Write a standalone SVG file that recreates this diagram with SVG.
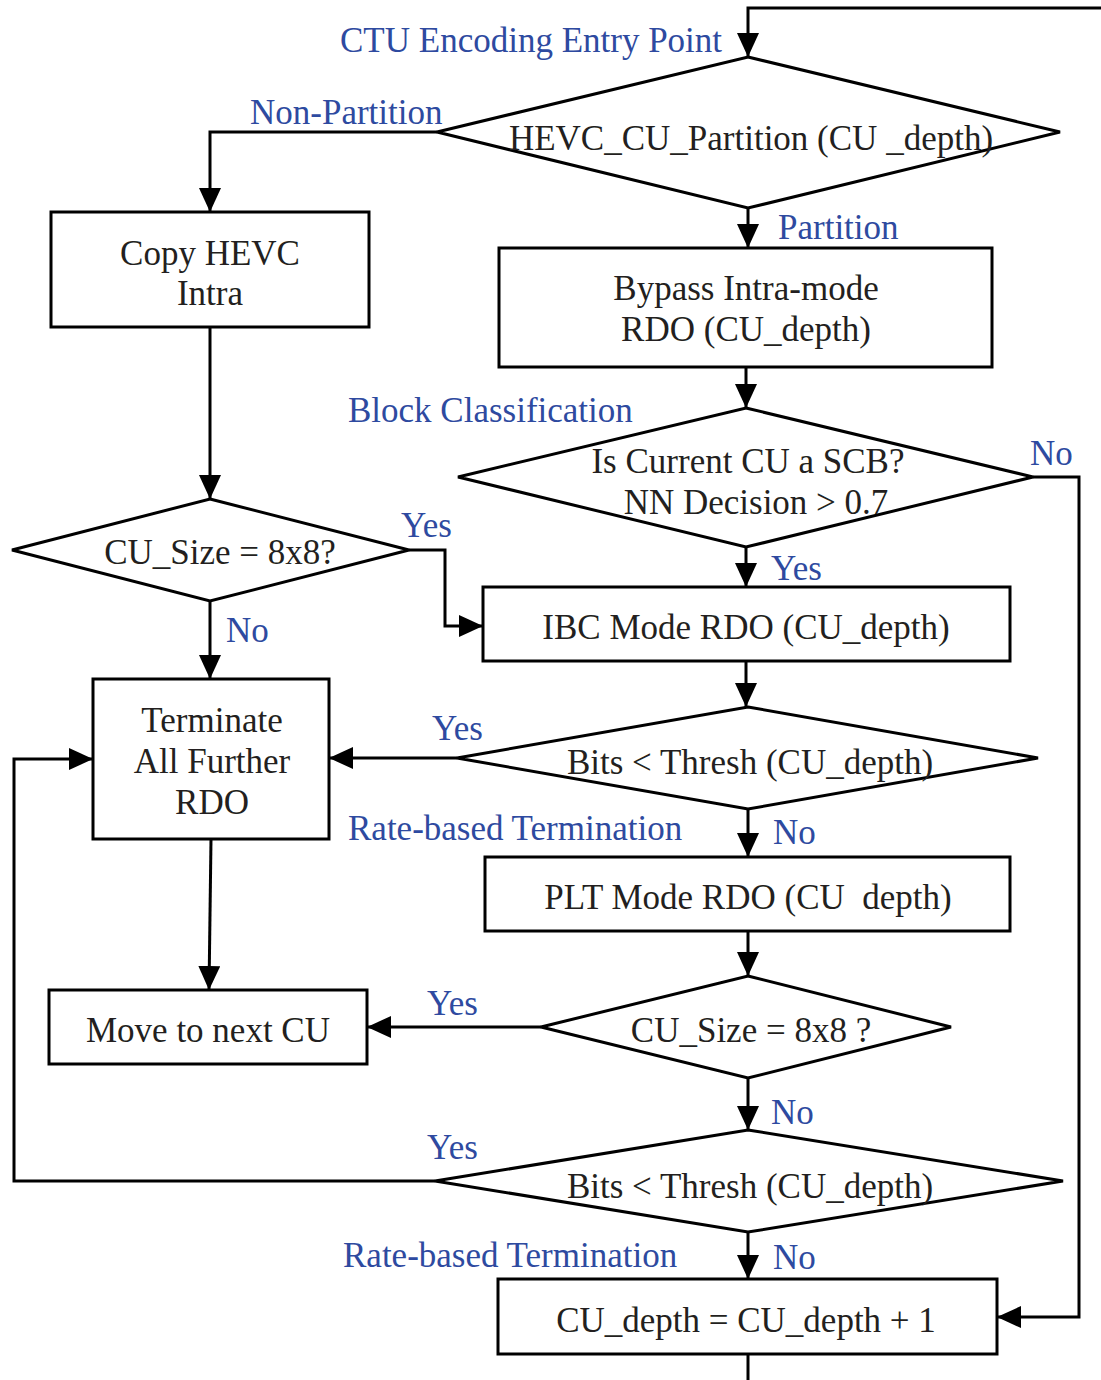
<svg xmlns="http://www.w3.org/2000/svg" width="1101" height="1380" viewBox="0 0 1101 1380">
  <defs>
    <marker id="arrow" markerUnits="userSpaceOnUse" markerWidth="26" markerHeight="24" refX="24" refY="11" orient="auto">
      <path d="M0,0 L24,11 L0,22 Z" fill="#000"/>
    </marker>
    <style>
      .shape { fill: #fff; stroke: #000; stroke-width: 3; }
      .wire { fill: none; stroke: #000; stroke-width: 3; }
      .arr { marker-end: url(#arrow); }
      .t { font-family: "Liberation Serif", "Times New Roman", serif; font-size: 35px; fill: #231f20; text-anchor: middle; }
      .lbl { font-family: "Liberation Serif", "Times New Roman", serif; font-size: 35px; fill: #2e4aa0; }
    </style>
  </defs>
  <rect width="1101" height="1380" fill="#fff"/>

  <!-- connectors -->
  <g id="connectors">
    <path class="wire arr" d="M1101,8 H748 V57"/>
    <path class="wire arr" d="M437,132 H210 V212"/>
    <path class="wire arr" d="M748,208 V248"/>
    <path class="wire arr" d="M210,327 V499"/>
    <path class="wire arr" d="M746,367 V408"/>
    <path class="wire arr" d="M409,550 H445 V626 H483"/>
    <path class="wire arr" d="M210,601 V679"/>
    <path class="wire arr" d="M746,547 V587"/>
    <path class="wire arr" d="M1033,477 H1079 V1317 H997"/>
    <path class="wire arr" d="M746,661 V707"/>
    <path class="wire arr" d="M457,758 H329"/>
    <path class="wire arr" d="M748,809 V857"/>
    <path class="wire arr" d="M211,839 L209,990"/>
    <path class="wire arr" d="M748,931 V976"/>
    <path class="wire arr" d="M541,1027 H367"/>
    <path class="wire arr" d="M748,1078 V1130"/>
    <path class="wire arr" d="M435,1181 H14 V759 H93"/>
    <path class="wire arr" d="M748,1232 V1279"/>
    <path class="wire" d="M748,1354 V1380"/>
  </g>

  <!-- nodes -->
  <g id="partition-check">
    <polygon class="shape" points="748,57 1060,132 748,208 437,132"/>
    <text class="t" x="751" y="150">HEVC_CU_Partition (CU _depth)</text>
  </g>
  <g id="copy-hevc-intra">
    <rect class="shape" x="51" y="212" width="318" height="115"/>
    <text class="t" x="210" y="265">Copy HEVC</text>
    <text class="t" x="210" y="305">Intra</text>
  </g>
  <g id="bypass-intra">
    <rect class="shape" x="499" y="248" width="493" height="119"/>
    <text class="t" x="746" y="300">Bypass Intra-mode</text>
    <text class="t" x="746" y="341">RDO (CU_depth)</text>
  </g>
  <g id="scb-check">
    <polygon class="shape" points="746,408 1033,477 746,547 458,477"/>
    <text class="t" x="748" y="473">Is Current CU a SCB?</text>
    <text class="t" x="756" y="514">NN Decision &gt; 0.7</text>
  </g>
  <g id="size-check-left">
    <polygon class="shape" points="210,499 409,550 210,601 12,550"/>
    <text class="t" x="220" y="564">CU_Size = 8x8?</text>
  </g>
  <g id="ibc-rdo">
    <rect class="shape" x="483" y="587" width="527" height="74"/>
    <text class="t" x="746" y="639">IBC Mode RDO (CU_depth)</text>
  </g>
  <g id="terminate">
    <rect class="shape" x="93" y="679" width="236" height="160"/>
    <text class="t" x="212" y="732">Terminate</text>
    <text class="t" x="212" y="773">All Further</text>
    <text class="t" x="212" y="814">RDO</text>
  </g>
  <g id="bits-check-1">
    <polygon class="shape" points="748,707 1038,758 748,809 457,758"/>
    <text class="t" x="750" y="774">Bits &lt; Thresh (CU_depth)</text>
  </g>
  <g id="plt-rdo">
    <rect class="shape" x="485" y="857" width="525" height="74"/>
    <text class="t" x="748" y="909">PLT Mode RDO (CU&#160;&#160;depth)</text>
  </g>
  <g id="size-check-right">
    <polygon class="shape" points="748,976 951,1027 748,1078 541,1027"/>
    <text class="t" x="751" y="1042">CU_Size = 8x8 ?</text>
  </g>
  <g id="next-cu">
    <rect class="shape" x="49" y="990" width="318" height="74"/>
    <text class="t" x="208" y="1042">Move to next CU</text>
  </g>
  <g id="bits-check-2">
    <polygon class="shape" points="748,1130 1063,1181 748,1232 435,1181"/>
    <text class="t" x="750" y="1198">Bits &lt; Thresh (CU_depth)</text>
  </g>
  <g id="depth-increment">
    <rect class="shape" x="498" y="1279" width="499" height="75"/>
    <text class="t" x="746" y="1332">CU_depth = CU_depth + 1</text>
  </g>

  <!-- edge and section labels -->
  <g id="labels">
    <text class="lbl" x="340" y="52">CTU Encoding Entry Point</text>
    <text class="lbl" x="250" y="124">Non-Partition</text>
    <text class="lbl" x="778" y="239">Partition</text>
    <text class="lbl" x="348" y="422">Block Classification</text>
    <text class="lbl" x="1030" y="465">No</text>
    <text class="lbl" x="401" y="537">Yes</text>
    <text class="lbl" x="771" y="580">Yes</text>
    <text class="lbl" x="226" y="642">No</text>
    <text class="lbl" x="432" y="740">Yes</text>
    <text class="lbl" x="348" y="840">Rate-based Termination</text>
    <text class="lbl" x="773" y="844">No</text>
    <text class="lbl" x="427" y="1015">Yes</text>
    <text class="lbl" x="771" y="1124">No</text>
    <text class="lbl" x="427" y="1159">Yes</text>
    <text class="lbl" x="343" y="1267">Rate-based Termination</text>
    <text class="lbl" x="773" y="1269">No</text>
  </g>
</svg>
